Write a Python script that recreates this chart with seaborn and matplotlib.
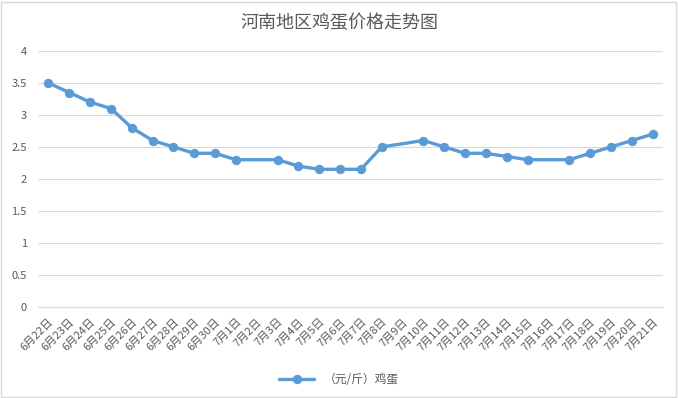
import numpy as np
import pandas as pd
import matplotlib.pyplot as plt
import seaborn as sns

# 日期与价格 (元/斤)
dates = ['6月22日', '6月23日', '6月24日', '6月25日', '6月26日', '6月27日', '6月28日',
         '6月29日', '6月30日', '7月1日', '7月2日', '7月3日', '7月4日', '7月5日',
         '7月6日', '7月7日', '7月8日', '7月9日', '7月10日', '7月11日', '7月12日',
         '7月13日', '7月14日', '7月15日', '7月16日', '7月17日', '7月18日', '7月19日',
         '7月20日', '7月21日']
prices = [3.5, 3.35, 3.2, 3.1, 2.8, 2.6, 2.5, 2.4, 2.4, 2.3, np.nan, 2.3, 2.2, 2.15,
          2.15, 2.15, 2.5, np.nan, 2.6, 2.5, 2.4, 2.4, 2.35, 2.3, np.nan, 2.3, 2.4,
          2.5, 2.6, 2.7]
yticks = [0, 0.5, 1, 1.5, 2, 2.5, 3, 3.5, 4]

sns.set_style('white')
plt.rcParams['font.family'] = ['Noto Sans CJK SC', 'DejaVu Sans']

df = pd.DataFrame({'pos': range(len(dates)), 'price': prices}).dropna()

fig = plt.figure(figsize=(6.78, 3.98), dpi=100)
ax = fig.add_axes([0.056, 0.229, 0.922, 0.643])

line_color = '#5B9BD5'
sns.lineplot(data=df, x='pos', y='price', ax=ax, color=line_color, linewidth=2.4,
             marker='o', markersize=6, markeredgecolor=line_color,
             label='（元/斤）鸡蛋')

ax.set_xlim(-0.5, len(dates) - 0.5)
ax.set_ylim(0, 4)
ax.set_yticks(yticks)
ax.set_yticklabels([f'{v:g}' for v in yticks], color='#595959', fontsize=8)
ax.yaxis.grid(True, color='#D9D9D9', linewidth=0.8)
ax.set_axisbelow(True)

ax.set_xticks(range(len(dates)))
ax.set_xticklabels(dates, rotation=45, ha='right', rotation_mode='anchor',
                   color='#595959', fontsize=8)
ax.set_xticks(np.arange(-0.5, len(dates), 1), minor=True)
ax.tick_params(axis='x', which='major', length=0, pad=7)
ax.tick_params(axis='x', which='minor', length=4, color='#D9D9D9')
ax.tick_params(axis='y', length=0, pad=8)
ax.set_xlabel('')
ax.set_ylabel('')

for side in ['top', 'right', 'left']:
    ax.spines[side].set_visible(False)
ax.spines['bottom'].set_color('#D9D9D9')

fig.suptitle('河南地区鸡蛋价格走势图', y=0.965, fontsize=13, color='#595959')

ax.get_legend().remove()
handles, labels = ax.get_legend_handles_labels()
fig.legend(handles, labels, loc='center', bbox_to_anchor=(0.5, 0.046), frameon=False,
           fontsize=8.5, labelcolor='#595959', handlelength=3)

fig.patches.append(plt.Rectangle((0.002, 0.003), 0.995, 0.993, transform=fig.transFigure,
                                 fill=False, edgecolor='#D9D9D9', linewidth=1))

fig.savefig('out.png', dpi=100)
